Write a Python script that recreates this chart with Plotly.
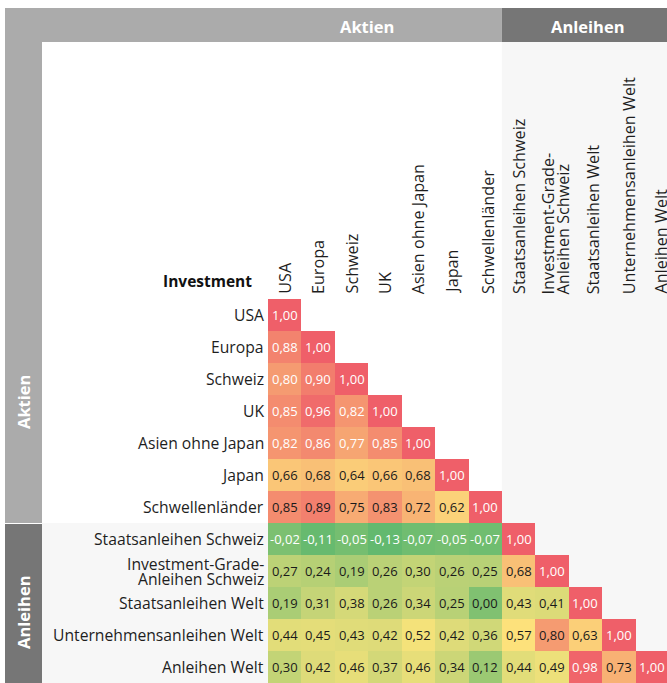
import plotly.graph_objects as go

# ---------------- data ----------------
labels = ["USA", "Europa", "Schweiz", "UK", "Asien ohne Japan", "Japan",
          "Schwellenländer", "Staatsanleihen Schweiz",
          "Investment-Grade-\nAnleihen Schweiz", "Staatsanleihen Welt",
          "Unternehmensanleihen Welt", "Anleihen Welt"]

corr_rows = [
    [1.00],
    [0.88, 1.00],
    [0.80, 0.90, 1.00],
    [0.85, 0.96, 0.82, 1.00],
    [0.82, 0.86, 0.77, 0.85, 1.00],
    [0.66, 0.68, 0.64, 0.66, 0.68, 1.00],
    [0.85, 0.89, 0.75, 0.83, 0.72, 0.62, 1.00],
    [-0.02, -0.11, -0.05, -0.13, -0.07, -0.05, -0.07, 1.00],
    [0.27, 0.24, 0.19, 0.26, 0.30, 0.26, 0.25, 0.68, 1.00],
    [0.19, 0.31, 0.38, 0.26, 0.34, 0.25, 0.00, 0.43, 0.41, 1.00],
    [0.44, 0.45, 0.43, 0.42, 0.52, 0.42, 0.36, 0.57, 0.80, 0.63, 1.00],
    [0.30, 0.42, 0.46, 0.37, 0.46, 0.34, 0.12, 0.44, 0.49, 0.98, 0.73, 1.00],
]

groups = ["Aktien", "Anleihen"]
group_sizes = [7, 5]
header_title = "Investment"

# ---------------- styling ----------------
W, H = 667, 683
FONT = "Open Sans"
TXT = "#1e1e1e"
LIGHT_GRAY = "#ababab"
DARK_GRAY = "#767676"
PANEL = "#f7f7f7"

grid_left, grid_top = 268, 299
cell_w = 33.4
row_h = 32
n = len(labels)

def PX(px):
    return px / W

def PY(py):
    return 1 - py / H

z = [row + [None] * (n - len(row)) for row in corr_rows]
zmin, zmax, zmid = -0.13, 1.0, 0.56
colorscale = [[0, "#63b96f"], [(zmid - zmin) / (zmax - zmin), "#fde47b"], [1, "#ef5f69"]]

fig = go.Figure(go.Heatmap(
    z=z, x=list(range(n)), y=list(range(n)),
    colorscale=colorscale, zmin=zmin, zmax=zmax, showscale=False,
    hoverongaps=False, xgap=0, ygap=0,
))

shapes = []
def rect(x0, y0, x1, y1, color):
    shapes.append(dict(type="rect", xref="paper", yref="paper",
                       x0=PX(x0), x1=PX(x1), y0=PY(y0), y1=PY(y1),
                       fillcolor=color, line=dict(width=0), layer="below"))

split_x = grid_left + group_sizes[0] * cell_w
split_y = grid_top + group_sizes[0] * row_h
rect(42, 42, W, H, "#ffffff")
rect(split_x, 42, W, H, PANEL)
rect(42, split_y, W, H, PANEL)
rect(5, 8, split_x, 42, LIGHT_GRAY)
rect(split_x, 8, W, 42, DARK_GRAY)
rect(5, 42, 42, split_y, LIGHT_GRAY)
rect(5, split_y + 1, 42, H, DARK_GRAY)

ann = []
hdr_font = dict(family=FONT, size=16.5, color="white")
ann.append(dict(text="<b>" + groups[0] + "</b>", xref="paper", yref="paper", x=PX(367), y=PY(26),
                xanchor="center", yanchor="middle", showarrow=False, font=hdr_font))
ann.append(dict(text="<b>" + groups[1] + "</b>", xref="paper", yref="paper", x=PX(588), y=PY(26),
                xanchor="center", yanchor="middle", showarrow=False, font=hdr_font))
ann.append(dict(text="<b>" + groups[0] + "</b>", xref="paper", yref="paper", x=PX(23), y=PY(402),
                xanchor="center", yanchor="middle", textangle=-90, showarrow=False, font=hdr_font))
ann.append(dict(text="<b>" + groups[1] + "</b>", xref="paper", yref="paper", x=PX(23), y=PY(612),
                xanchor="center", yanchor="middle", textangle=-90, showarrow=False, font=hdr_font))
ann.append(dict(text="<b>" + header_title + "</b>", xref="paper", yref="paper",
                x=PX(254), y=PY(281), xanchor="right", yanchor="middle", showarrow=False,
                font=dict(family=FONT, size=15.5, color="#111111")))

ROW_SIZE = 15.7
COL_SIZE = 16.2
col_label_shift = [0, 0, 0, 0, 0, 0, 3, 0, 4, 8, 10, 8]
for j, lab in enumerate(labels):
    lines = lab.split("\n")
    for k, line in enumerate(lines):
        off = (k - (len(lines) - 1) / 2) * 15
        ann.append(dict(text=line, xref="x", yref="paper", x=j, y=PY(296),
                        xshift=off + col_label_shift[j], yanchor="bottom", xanchor="center",
                        textangle=-90, showarrow=False,
                        font=dict(family=FONT, size=COL_SIZE, color=TXT)))
# row labels
for i, lab in enumerate(labels):
    lines = lab.split("\n")
    for k, line in enumerate(lines):
        off = -(k - (len(lines) - 1) / 2) * 15
        ann.append(dict(text=line, xref="paper", yref="y", x=PX(266), y=i, yshift=off,
                        xanchor="right", yanchor="middle", showarrow=False,
                        font=dict(family=FONT, size=ROW_SIZE, color=TXT)))
# cell values
for i, row in enumerate(corr_rows):
    for j, v in enumerate(row):
        white = v >= 0.95 or v < 0 or i < 5
        ann.append(dict(text=f"{v:.2f}".replace(".", ","), xref="x", yref="y", x=j, y=i,
                        xanchor="center", yanchor="middle", showarrow=False,
                        font=dict(family=FONT, size=13, color="white" if white else "#1a1a1a")))

fig.update_layout(
    width=W, height=H, margin=dict(l=0, r=0, t=0, b=0),
    paper_bgcolor="white", plot_bgcolor="rgba(0,0,0,0)",
    shapes=shapes, annotations=ann, showlegend=False,
    xaxis=dict(domain=[PX(grid_left), 1], range=[-0.5, -0.5 + (W - grid_left) / cell_w],
               showgrid=False, zeroline=False, showticklabels=False, ticks=""),
    yaxis=dict(domain=[0, PY(grid_top)], range=[n - 0.5, -0.5],
               showgrid=False, zeroline=False, showticklabels=False, ticks=""),
)

fig.write_html("out.html", config={"displayModeBar": False},
               post_script="document.body.style.margin='0';document.body.style.overflow='hidden';")
